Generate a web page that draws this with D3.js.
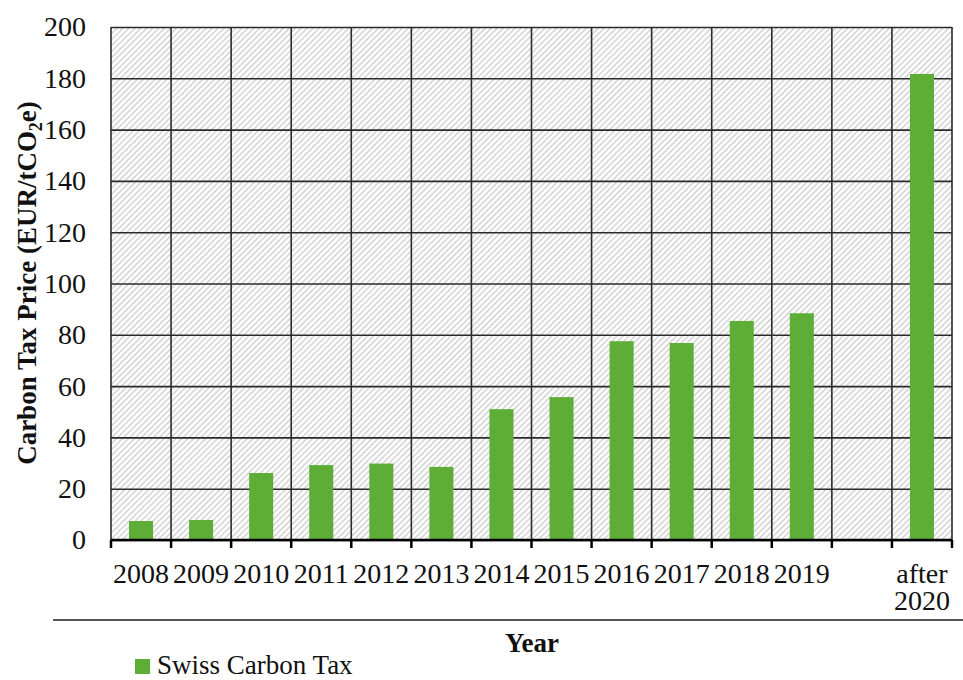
<!DOCTYPE html>
<html>
<head>
<meta charset="utf-8">
<script src="https://cdn.jsdelivr.net/npm/d3@7"></script>
<style>
  html, body { margin: 0; padding: 0; background: #fff; }
  svg { display: block; }
  text { font-family: "Liberation Serif", "Times New Roman", serif; fill: #111; }
</style>
</head>
<body>
<svg id="chart" width="963" height="680"></svg>
<script>
// Swiss carbon tax price per year (EUR per tonne CO2e)
const categories = ["2008", "2009", "2010", "2011", "2012", "2013", "2014", "2015",
                    "2016", "2017", "2018", "2019", "2020", "after 2020"];
const categoryLabels = ["2008", "2009", "2010", "2011", "2012", "2013", "2014", "2015",
                        "2016", "2017", "2018", "2019", "", "after 2020"];
const swissCarbonTax = [7.4, 7.8, 26.1, 29.2, 29.8, 28.5, 51.0, 55.7,
                        77.5, 76.8, 85.4, 88.4, null, 181.7];
const yTicks = [0, 20, 40, 60, 80, 100, 120, 140, 160, 180, 200];
const seriesName = "Swiss Carbon Tax";

const svg = d3.select("#chart");
const plot = { left: 111, right: 952, top: 27, bottom: 540 };
const width = plot.right - plot.left, height = plot.bottom - plot.top;

const x = d3.scaleBand().domain(categories).range([0, width]).paddingInner(0).paddingOuter(0);
const y = d3.scaleLinear().domain([0, 200]).range([height, 0]);

// diagonal hatch fill for the plotting area
const defs = svg.append("defs");
defs.append("pattern")
  .attr("id", "hatch").attr("patternUnits", "userSpaceOnUse")
  .attr("width", 4.2).attr("height", 4.2).attr("patternTransform", "rotate(45)")
  .call(p => {
    p.append("rect").attr("width", 4.2).attr("height", 4.2).attr("fill", "#fff");
    p.append("line").attr("x1", 1).attr("x2", 1).attr("y1", 0).attr("y2", 4.2)
      .attr("stroke", "#d2d2d2").attr("stroke-width", 1.5);
  });

const g = svg.append("g").attr("transform", `translate(${plot.left},${plot.top})`);

g.append("rect").attr("width", width).attr("height", height).attr("fill", "url(#hatch)");

// horizontal gridlines + y tick labels
const yAxis = g.append("g")
  .call(d3.axisLeft(y).tickValues(yTicks).tickSize(-width).tickPadding(25).tickFormat(d3.format("d")));
yAxis.select(".domain").remove();
yAxis.selectAll(".tick line").attr("stroke", "#2b2b2b").attr("stroke-width", 1.6);
yAxis.selectAll(".tick text").attr("font-size", 28).attr("font-family", "Liberation Serif").attr("fill", "#111");

// vertical gridlines at category boundaries
const bounds = categories.map(c => x(c)).concat([x(categories[categories.length - 1]) + x.bandwidth()]);
g.append("g").selectAll("line").data(bounds).join("line")
  .attr("x1", d => d).attr("x2", d => d).attr("y1", 0).attr("y2", height)
  .attr("stroke", "#2b2b2b").attr("stroke-width", 1.6);

// bars
const barW = x.bandwidth() * 0.4;
g.append("g").selectAll("rect")
  .data(categories.map((c, i) => ({ c, v: swissCarbonTax[i] })).filter(d => d.v != null))
  .join("rect")
  .attr("x", d => x(d.c) + (x.bandwidth() - barW) / 2)
  .attr("y", d => y(d.v))
  .attr("width", barW)
  .attr("height", d => y(0) - y(d.v))
  .attr("fill", "#5dad36");

// x axis baseline with boundary ticks
g.append("line").attr("x1", 0).attr("x2", width).attr("y1", height).attr("y2", height)
  .attr("stroke", "#000").attr("stroke-width", 2.5);
g.append("g").selectAll("line").data(bounds).join("line")
  .attr("x1", d => d).attr("x2", d => d).attr("y1", height).attr("y2", height + 8)
  .attr("stroke", "#000").attr("stroke-width", 2.5);

// category labels (two-line where the label has a space)
const xAxis = g.append("g").attr("transform", `translate(0,${height})`)
  .call(d3.axisBottom(x).tickSize(0).tickFormat(""));
xAxis.select(".domain").remove();
xAxis.selectAll(".tick").append("text")
  .attr("font-size", 28).attr("font-family", "Liberation Serif").attr("fill", "#111")
  .attr("text-anchor", "middle")
  .each(function (d, i) {
    const parts = categoryLabels[i].split(" ").filter(s => s.length);
    const t = d3.select(this);
    parts.forEach((p, k) => t.append("tspan").attr("x", 0).attr("y", 43 + k * 27).text(p));
  });

// separator line under the axis labels
svg.append("line").attr("x1", 53).attr("x2", 963).attr("y1", 620).attr("y2", 620)
  .attr("stroke", "#555").attr("stroke-width", 2);

// axis titles
svg.append("text").attr("x", 532).attr("y", 652).attr("text-anchor", "middle")
  .attr("font-size", 27).attr("font-weight", "bold").text("Year");

const yt = svg.append("text")
  .attr("transform", "translate(36,283) rotate(-90)")
  .attr("text-anchor", "middle").attr("font-size", 27).attr("font-weight", "bold");
yt.append("tspan").text("Carbon Tax Price (EUR/tCO");
yt.append("tspan").attr("font-size", 18).attr("dy", 6).text("2");
yt.append("tspan").attr("dy", -6).text("e)");

// legend
const lg = svg.append("g").attr("transform", "translate(135,659)");
lg.append("rect").attr("width", 15).attr("height", 15).attr("fill", "#5dad36");
lg.append("text").attr("x", 22).attr("y", 15).attr("font-size", 27).text(seriesName);
</script>
</body>
</html>
